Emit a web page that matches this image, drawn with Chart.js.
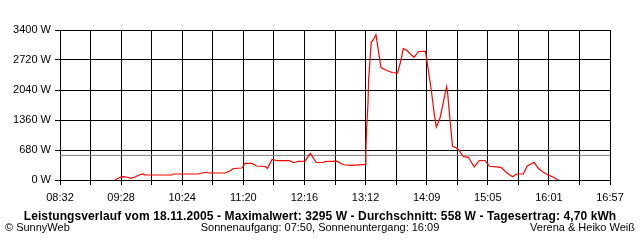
<!DOCTYPE html>
<html>
<head>
<meta charset="utf-8">
<script src="https://cdn.jsdelivr.net/npm/chart.js@4/dist/chart.umd.min.js"></script>
<style>
  html, body { margin: 0; padding: 0; background: #fff; }
  #wrap { position: relative; width: 640px; height: 240px; overflow: hidden; font-family: "Liberation Sans", Arial, sans-serif; color: #000; }
  #c { position: absolute; left: 0; top: 0; }
  .t { position: absolute; white-space: nowrap; line-height: 1; }
  #title { left: 0; width: 640px; text-align: center; top: 210px; font-weight: bold; font-size: 12px; letter-spacing: 0.1px; }
  #left { left: 5px; top: 222px; font-size: 11px; }
  #mid { left: 0; width: 640px; text-align: center; top: 222px; font-size: 11px; }
  #right { right: 5px; top: 222px; font-size: 11px; }
</style>
</head>
<body>
<div id="wrap">
  <canvas id="c" width="640" height="240"></canvas>
  <div class="t" id="title">Leistungsverlauf vom 18.11.2005 - Maximalwert: 3295 W - Durchschnitt: 558 W - Tagesertrag: 4,70 kWh</div>
  <div class="t" id="left">© SunnyWeb</div>
  <div class="t" id="mid">Sonnenaufgang: 07:50, Sonnenuntergang: 16:09</div>
  <div class="t" id="right">Verena &amp; Heiko Weiß</div>
</div>
<script>
// x tick labels (every second vertical gridline is labelled)
const xTickLabels = ['08:32','09:28','10:24','11:20','12:16','13:12','14:09','15:05','16:01','16:57'];
const xMinMinutes = 512;   // 08:32
const xMaxMinutes = 1017;  // 16:57
const yTickValues = [0, 680, 1360, 2040, 2720, 3400];
const averageW = 558;

// time in minutes since midnight
const timeMinutes = [
  562.5, 567.1, 570.1, 573.2, 576.9, 580.9, 585.1, 588.5, 590.0, 614.6,
  616.0, 639.0, 645.1, 649.7, 663.5, 668.1, 671.1, 679.1, 681.9, 688.0,
  692.6, 700.2, 702.5, 706.7, 711.2, 722.3, 726.8, 730.8, 737.0, 741.8,
  747.3, 753.7, 755.3, 766.3, 772.1, 780.1, 792.6, 792.8, 793.6, 794.8,
  795.4, 796.9, 797.8, 799.6, 802.1, 804.2, 806.7, 811.9, 816.8, 821.9,
  825.1, 827.2, 830.6, 837.0, 841.3, 847.6, 849.0, 850.2, 852.9, 855.7,
  857.5, 860.9, 864.8, 867.0, 867.9, 870.1, 872.4, 875.6, 878.3, 882.3,
  886.9, 892.4, 897.0, 902.2, 906.4, 916.9, 922.7, 927.6, 931.3, 937.4,
  941.0, 947.2, 951.2, 955.7, 960.3, 964.9, 969.5
];
// power in W
const powerW = [
  0, 61, 75, 68, 39, 68, 120, 136, 113, 113,
  136, 136, 175, 159, 159, 204, 261, 272, 379, 379,
  317, 306, 265, 465, 437, 437, 392, 424, 426, 605,
  397, 397, 419, 426, 345, 333, 356, 635, 1190, 1739,
  2282, 2811, 3128, 3173, 3295, 2947, 2550, 2482, 2437, 2421,
  2720, 2981, 2935, 2781, 2913, 2917, 2686, 2482, 2040, 1480,
  1201, 1405, 1859, 2119, 1972, 1360, 764, 730, 680, 528,
  515, 295, 442, 442, 311, 288, 152, 75, 136, 136,
  317, 401, 265, 175, 113, 61, 0
];

const powerPoints = timeMinutes.map((t, i) => ({ x: t, y: powerW[i] }));
const avgPoints = [{ x: xMinMinutes, y: averageW }, { x: xMaxMinutes, y: averageW }];

const tickFont = { family: '"Liberation Sans", Arial, sans-serif', size: 11 };

new Chart(document.getElementById('c'), {
  type: 'line',
  data: {
    datasets: [
      { data: powerPoints, borderColor: '#ff0000', borderWidth: 1.2, pointRadius: 0, tension: 0, fill: false, order: 0 },
      { data: avgPoints, borderColor: '#808080', borderWidth: 1, pointRadius: 0, tension: 0, fill: false, order: 1 }
    ]
  },
  options: {
    responsive: false,
    animation: false,
    devicePixelRatio: 1,
    layout: { padding: { top: 30, right: 30, left: 0, bottom: 0 } },
    plugins: { legend: { display: false }, tooltip: { enabled: false }, title: { display: false } },
    scales: {
      x: {
        type: 'linear',
        min: xMinMinutes,
        max: xMaxMinutes,
        afterBuildTicks: (scale) => {
          const n = (xTickLabels.length - 1) * 2;
          const ticks = [];
          for (let i = 0; i <= n; i++) ticks.push({ value: xMinMinutes + i * (xMaxMinutes - xMinMinutes) / n });
          scale.ticks = ticks;
        },
        afterFit: (scale) => { scale.height = 60; },
        grid: { color: '#000', lineWidth: 1, drawTicks: true, tickLength: 5, tickColor: '#000' },
        border: { display: true, color: '#000', width: 1 },
        ticks: {
          autoSkip: false, maxRotation: 0, minRotation: 0, padding: 6, color: '#000', font: tickFont,
          callback: (value, index) => (index % 2 === 0 ? xTickLabels[index / 2] : '')
        }
      },
      y: {
        type: 'linear',
        min: yTickValues[0],
        max: yTickValues[yTickValues.length - 1],
        afterBuildTicks: (scale) => { scale.ticks = yTickValues.map(v => ({ value: v })); },
        afterFit: (scale) => { scale.width = 60; },
        grid: { color: '#000', lineWidth: 1, drawTicks: true, tickLength: 5, tickColor: '#000' },
        border: { display: true, color: '#000', width: 1 },
        ticks: { padding: 4, color: '#000', font: tickFont, callback: (v) => v + ' W' }
      }
    }
  }
});
</script>
</body>
</html>
